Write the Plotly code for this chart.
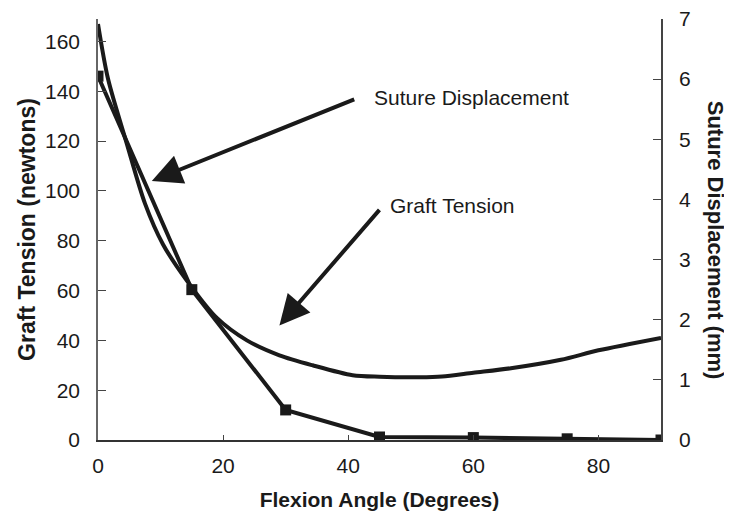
import plotly.graph_objects as go

# Graft tension curve (left axis, newtons)
tension_angle = [0, 1.6, 4.6, 7.5, 10.4, 14.2, 19, 23.8, 29, 34.3, 40.7, 45, 51.4, 55, 60, 66, 74, 80, 90]
tension_newtons = [167, 145, 119, 95, 78.5, 64, 49, 40, 34, 30, 26, 25.4, 25.2, 25.5, 27, 28.8, 32.2, 36, 41]

# Suture displacement (right axis, mm)
disp_angle = [0, 15, 30, 45, 60, 75, 90]
disp_mm = [6.05, 2.5, 0.5, 0.05, 0.04, 0.02, 0.0]

x_ticks = [0, 20, 40, 60, 80]
y_ticks = [0, 20, 40, 60, 80, 100, 120, 140, 160]
y2_ticks = [0, 1, 2, 3, 4, 5, 6, 7]

FONT = "Liberation Sans, Arial, sans-serif"
INK = "#1a1a1a"

fig = go.Figure()
fig.add_trace(go.Scatter(
    x=tension_angle, y=tension_newtons, mode="lines",
    line=dict(color=INK, width=4, shape="spline", smoothing=0.8),
    name="Graft Tension", showlegend=False))
fig.add_trace(go.Scatter(
    x=disp_angle, y=disp_mm, mode="lines+markers", yaxis="y2",
    line=dict(color=INK, width=4),
    marker=dict(symbol="square", size=11, color=INK),
    name="Suture Displacement", showlegend=False))

fig.update_layout(
    width=732, height=516,
    margin=dict(l=90, r=79, t=11, b=84, autoexpand=False),
    paper_bgcolor="white", plot_bgcolor="white",
    font=dict(family=FONT, color=INK, size=21),
    xaxis=dict(range=[0, 90], tickvals=x_ticks, ticks="inside", ticklen=5,
               tickcolor="#444", showline=True, linecolor="#333", linewidth=1.5,
               showgrid=False, zeroline=False, automargin=False, ticklabeloverflow="allow",
               tickfont=dict(size=21), ticklabelstandoff=6,
               title=dict(text="<b>Flexion Angle (Degrees)</b>", font=dict(size=21), standoff=16)),
    yaxis=dict(range=[0, 169], tickvals=y_ticks, ticks="inside", ticklen=8,
               tickcolor="#444", showline=True, linecolor="#666", linewidth=1.5,
               showgrid=False, zeroline=False, automargin=False, ticklabeloverflow="allow",
               tickfont=dict(size=21), ticklabelstandoff=12,
               title=dict(text="<b>Graft Tension (newtons)</b>", font=dict(size=23), standoff=3)),
    yaxis2=dict(range=[0, 7], tickvals=y2_ticks, overlaying="y", side="right",
                ticks="inside", ticklen=8, tickcolor="#444", showline=True,
                linecolor="#444", linewidth=1.5, showgrid=False, zeroline=False,
                automargin=False, ticklabeloverflow="allow",
                tickfont=dict(size=21), ticklabelstandoff=12),
)

annotations = [
    dict(x=1.124, y=0.475, xref="paper", yref="paper", text="<b>Suture Displacement (mm)</b>",
         textangle=90, showarrow=False, font=dict(size=22, family=FONT, color=INK)),
    dict(x=43.8, y=137.5, xref="x", yref="y", text="Suture Displacement", xanchor="left",
         yanchor="middle", showarrow=False, font=dict(size=21, family=FONT, color=INK)),
    dict(x=46.3, y=94.3, xref="x", yref="y", text="Graft Tension", xanchor="left",
         yanchor="middle", showarrow=False, font=dict(size=21, family=FONT, color=INK)),
    dict(x=8.6, y=104, ax=41.2, ay=137, xref="x", yref="y", axref="x", ayref="y",
         text="", showarrow=True, arrowhead=2, arrowsize=1.5, arrowwidth=4, arrowcolor=INK),
    dict(x=29, y=46, ax=45.2, ay=93, xref="x", yref="y", axref="x", ayref="y",
         text="", showarrow=True, arrowhead=2, arrowsize=1.5, arrowwidth=4, arrowcolor=INK),
]
fig.update_layout(annotations=annotations)

fig.write_html("out.html")
